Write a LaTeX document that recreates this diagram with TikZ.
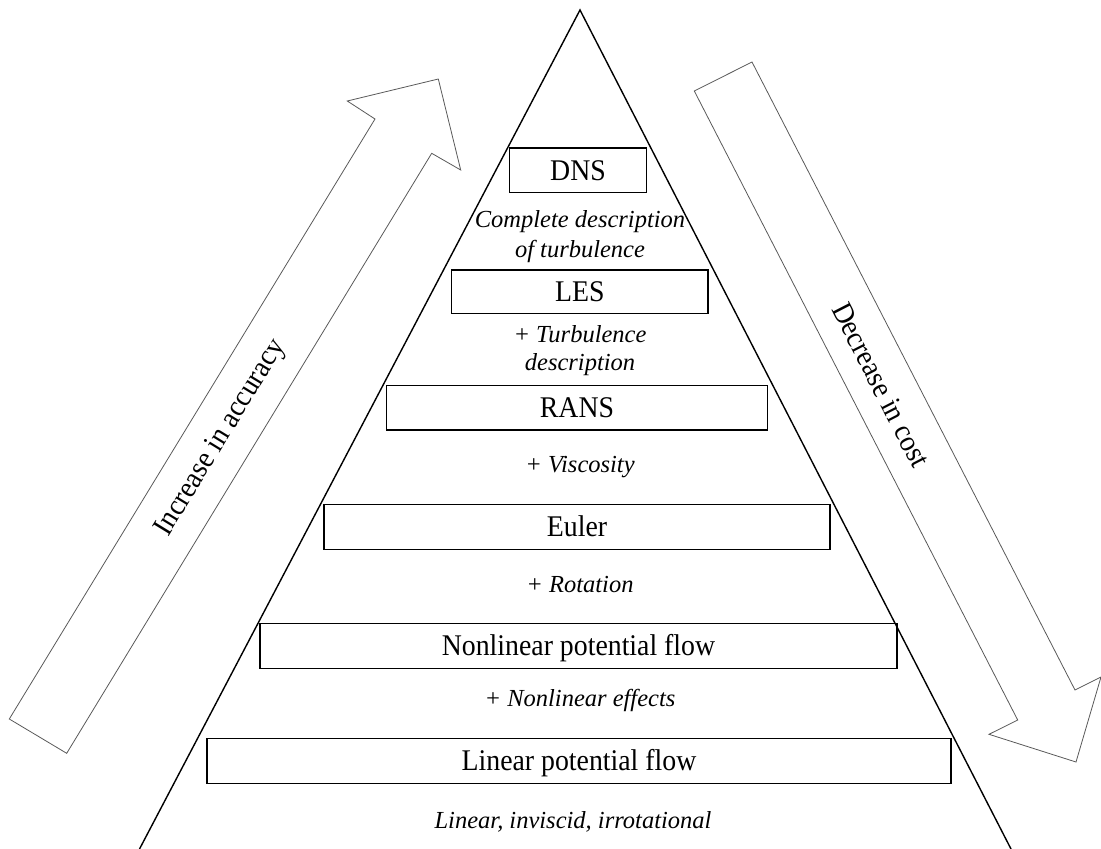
\documentclass[tikz,border=0pt]{standalone}
\usepackage{fontspec}
\setmainfont{Liberation Serif}
\newcommand{\tallish}[1]{\scalebox{1}[1.08]{#1}}
\begin{document}
\begin{tikzpicture}[x=1pt,y=-1pt,
  levelbox/.style={draw, line width=1.2pt, inner sep=0pt, text height=19.6pt, text depth=0pt,
    font=\fontsize{27.8}{30}\selectfont},
  note/.style={anchor=base, align=center, inner sep=0pt,
    font=\fontsize{24.5}{30.4}\selectfont\itshape},
  bigarrow/.style={draw=black!65, line width=0.8pt, line join=miter},
  arrowtext/.style={inner sep=0pt, font=\fontsize{27.5}{30}\selectfont},
  pyr/.style={draw=black, line width=1.4pt}]
\useasboundingbox (0,0) rectangle (1101,849);

% pyramid
\coordinate (bl) at (139.5,849);
\coordinate (apex) at (580,10);
\coordinate (br) at (1011,849);
\draw[pyr] (bl) -- (apex) -- (br);

% big arrows
\draw[bigarrow] (9.3,719) -- (375,119) -- (347.3,101) -- (438.3,79) -- (460.7,170)
  -- (431.7,153.3) -- (66.7,753.3) -- cycle;
\draw[bigarrow] (694.3,91) -- (752,62) -- (1075,690) -- (1101,677) -- (1076,762)
  -- (989,734.3) -- (1017.7,720) -- cycle;
\node[arrowtext, rotate=58.55] (acc) at (221,438) {\tallish{Increase in accuracy}};
\node[arrowtext, rotate=-62.8] (cost) at (881,385) {\tallish{Decrease in cost}};

% levels
\node[levelbox, minimum width=137.4pt, minimum height=44.7pt] (dns) at (578,170.3) {\tallish{DNS}};
\node[levelbox, minimum width=256.3pt, minimum height=43.3pt] (les) at (579.9,291.7) {\tallish{LES}};
\node[levelbox, minimum width=380.6pt, minimum height=44.3pt] (rans) at (577,407.9) {\tallish{RANS}};
\node[levelbox, minimum width=506pt, minimum height=45pt] (euler) at (577,526.8) {\tallish{Euler}};
\node[levelbox, minimum width=637pt, minimum height=45pt] (npf) at (578.5,645.8) {\tallish{Nonlinear potential flow}};
\node[levelbox, minimum width=744pt, minimum height=45pt] (lpf) at (579,760.8) {\tallish{Linear potential flow}};

% notes
\node[note] (n1) at (580,257.7) {Complete description\\of turbulence};
\node[note, font=\fontsize{24.5}{27.4}\selectfont\itshape] (n2) at (580,370) {+ Turbulence\\description};
\node[note] (n3) at (580,472.5) {+ Viscosity};
\node[note] (n4) at (580,592.5) {+ Rotation};
\node[note] (n5) at (580,706) {+ Nonlinear effects};
\node[note] (n6) at (573,828) {Linear, inviscid, irrotational};
\end{tikzpicture}
\end{document}
